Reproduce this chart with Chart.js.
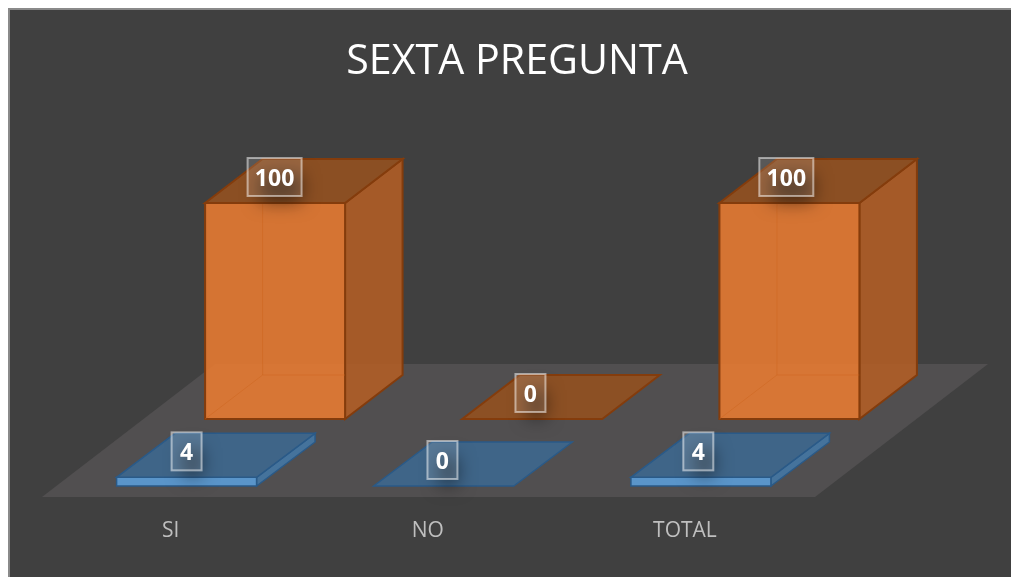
<!DOCTYPE html>
<html><head><meta charset="utf-8">
<script src="https://cdn.jsdelivr.net/npm/chart.js@4"></script>
<style>
html,body{margin:0;padding:0;background:#fff;overflow:hidden;width:1011px;height:577px}
#card{position:absolute;left:8px;top:8px;width:1003px;height:569px;box-sizing:border-box;background:#404040;border-left:2px solid #8a8a8a;border-top:2px solid #8a8a8a}
canvas{position:absolute;left:0;top:0}
</style></head>
<body><div id="card"></div><canvas id="c" width="1011" height="577"></canvas>
<script>
const categories = ["SI", "NO", "TOTAL"];
const frontValues = [4, 0, 4];
const backValues = [100, 0, 100];
const titleText = "SEXTA PREGUNTA";

const FONT = '"Open Sans", sans-serif';
const FLOOR = {x: 173, y: -133, overhang: 1.5};
const LABEL_DRIFT = 1.3;
const rows = [
  {dx: 16, dy: -11, depthX: 58.5, depthY: -44, lw: 1.5, front: 'rgba(91,155,213,0.92)', side: '#45739c', top: '#3f6588', edge: '#2a5a88', inner: 'rgba(42,90,136,0)'},
  {dx: 104.5, dy: -78, depthX: 57.5, depthY: -44, lw: 2, front: 'rgba(237,125,49,0.86)', side: 'rgba(176,93,38,0.9)', top: 'rgba(143,80,34,0.96)', edge: '#843c0c', inner: 'rgba(205,100,28,0.45)'}
];

function poly(ctx, pts, fill, stroke, lw) {
  ctx.beginPath();
  pts.forEach((p, i) => i ? ctx.lineTo(p[0], p[1]) : ctx.moveTo(p[0], p[1]));
  ctx.closePath();
  if (fill) { ctx.fillStyle = fill; ctx.fill(); }
  if (stroke) { ctx.strokeStyle = stroke; ctx.lineWidth = lw; ctx.lineJoin = 'miter'; ctx.stroke(); }
}

const box3d = {
  id: 'box3d',
  beforeDatasetsDraw(chart) {
    const a = chart.chartArea, c = chart.ctx, right = a.right + FLOOR.overhang;
    poly(c, [[a.left, a.bottom], [right, a.bottom], [right + FLOOR.x, a.bottom + FLOOR.y], [a.left + FLOOR.x, a.bottom + FLOOR.y]], '#514f50');
  },
  beforeDatasetDraw(chart, args) {
    const c = chart.ctx, r = rows[args.index];
    args.meta.data.forEach(bar => {
      const l = bar.x - bar.width / 2 + r.dx, w = bar.width;
      const R = l + w, t = bar.y + r.dy, b = bar.base + r.dy, dx = r.depthX, dy = r.depthY;
      if (b - t > 1) {
        poly(c, [[R, t], [R + dx, t + dy], [R + dx, b + dy], [R, b]], r.side, r.edge, r.lw);
        poly(c, [[l, t], [R, t], [R, b], [l, b]], r.front, r.edge, r.lw);
        // back edges seen through the translucent front face
        c.beginPath();
        c.moveTo(l, b); c.lineTo(l + dx, b + dy); c.lineTo(R, b + dy);
        c.moveTo(l + dx, b + dy); c.lineTo(l + dx, t);
        c.strokeStyle = r.inner; c.lineWidth = 1; c.stroke();
      }
      poly(c, [[l, t], [R, t], [R + dx, t + dy], [l + dx, t + dy]], r.top, r.edge, r.lw);
    });
    return false;
  },
  afterDatasetsDraw(chart) {
    const c = chart.ctx;
    [1, 0].forEach(i => {
      const r = rows[i], values = chart.data.datasets[i].data;
      chart.getDatasetMeta(i).data.forEach((bar, k) => {
        const text = String(values[k]);
        const cx = bar.x + r.dx - LABEL_DRIFT * k - (i ? 0.5 : 0), cy = bar.y + r.dy - 26;
        const bw = text.length > 1 ? 54 : 30, bh = 38;
        c.save();
        c.shadowColor = 'rgba(0,0,0,0.5)';
        c.shadowBlur = 18;
        c.shadowOffsetX = 5000 + 6;
        c.shadowOffsetY = 8;
        c.fillStyle = '#000';
        c.fillRect(cx - bw / 2 + 6 - 5000, cy - bh / 2 + 8, bw - 12, bh - 10);
        c.restore();
        c.fillStyle = 'rgba(255,255,255,0.13)';
        c.fillRect(cx - bw / 2, cy - bh / 2, bw, bh);
        c.strokeStyle = 'rgba(255,255,255,0.5)';
        c.lineWidth = 2;
        c.strokeRect(cx - bw / 2, cy - bh / 2, bw, bh);
        c.fillStyle = '#fff';
        c.font = 'bold 23px ' + FONT;
        c.textAlign = 'center';
        c.textBaseline = 'middle';
        c.fillText(text, cx, cy + 2);
      });
    });
  }
};

new Chart(document.getElementById('c'), {
  type: 'bar',
  data: {
    labels: categories,
    datasets: [
      {label: 'Cantidad', data: frontValues},
      {label: 'Porcentaje', data: backValues}
    ]
  },
  options: {
    responsive: false,
    animation: false,
    grouped: false,
    barPercentage: 0.5443,
    categoryPercentage: 1,
    layout: {padding: {left: 23, right: 0, top: 0, bottom: 0}},
    plugins: {
      legend: {display: false},
      tooltip: {enabled: false},
      title: {
        display: true,
        text: titleText,
        color: '#ffffff',
        font: {family: FONT, size: 41.2, weight: 'normal', lineHeight: 1.2},
        padding: {top: 38, bottom: 139.56}
      }
    },
    scales: {
      x: {
        grid: {display: false},
        border: {display: false},
        ticks: {color: '#bfbfbf', font: {family: FONT, size: 21}, padding: 13, maxRotation: 0},
        afterFit(s) { s.height = 80; }
      },
      y: {
        min: 0, max: 125,
        grid: {display: false},
        border: {display: false},
        ticks: {display: false},
        afterFit(s) { s.width = 19; }
      },
      pad: {
        position: 'right',
        min: 0, max: 1,
        grid: {display: false},
        border: {display: false},
        ticks: {display: false},
        afterFit(s) { s.width = 197.5; }
      }
    }
  },
  plugins: [box3d]
});
</script></body></html>
